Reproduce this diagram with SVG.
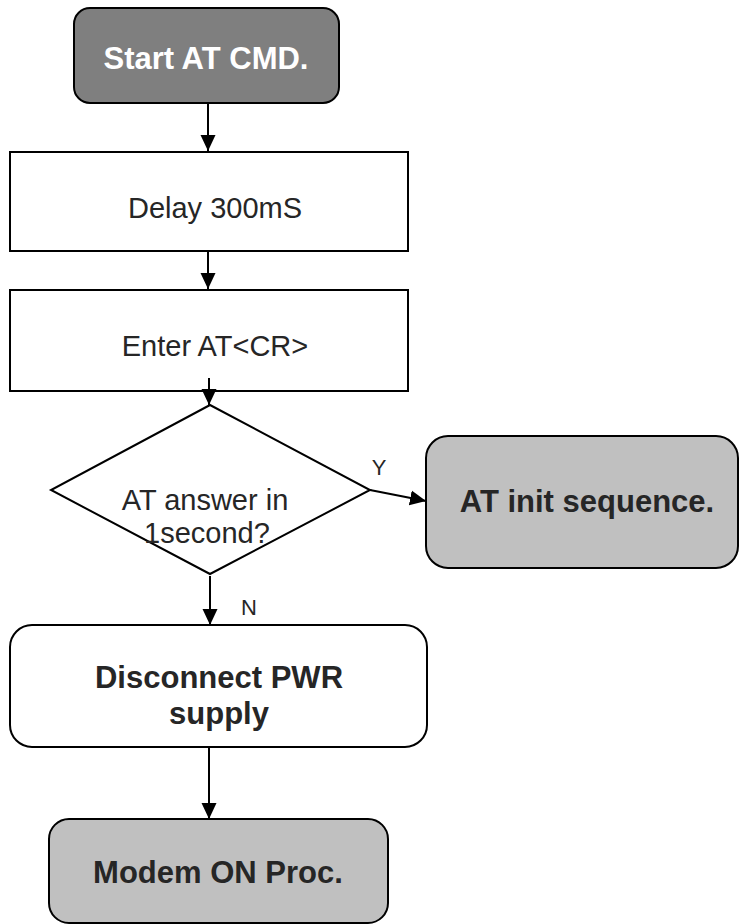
<svg xmlns="http://www.w3.org/2000/svg" width="739" height="924" viewBox="0 0 739 924">
<defs>
<marker id="ah" markerWidth="16" markerHeight="16" refX="16" refY="8" orient="auto" markerUnits="userSpaceOnUse">
<path d="M0,0.5 L16,8 L0,15.5 Z" fill="#000"/>
</marker>
<style>
.box{stroke:#000;stroke-width:2}
.t{font-family:"Liberation Sans",Arial,sans-serif;fill:#262626;text-anchor:middle}
.r{font-size:29px}
.b{font-size:31px;font-weight:bold}
.lbl{font-size:22px}
.c{stroke:#000;stroke-width:2;fill:none;marker-end:url(#ah)}
</style>
</defs>
<rect width="739" height="924" fill="#fff"/>
<g id="start">
<rect class="box" x="74" y="8" width="265" height="95" rx="16" fill="#7f7f7f"/>
<text class="t b" x="206" y="69" style="fill:#fff">Start AT CMD.</text>
</g>
<g id="delay">
<rect class="box" x="10" y="152" width="398" height="99" fill="#fff"/>
<text class="t r" x="215" y="218">Delay 300mS</text>
</g>
<g id="enter">
<rect class="box" x="10" y="290" width="398" height="101" fill="#fff"/>
<text class="t r" x="215" y="356">Enter AT&lt;CR&gt;</text>
</g>
<g id="decision">
<polygon class="box" points="210,405 370,490 210,574 51,490" fill="#fff"/>
<text class="t r" x="205" y="510">AT answer in</text>
<text class="t r" x="207" y="543">1second?</text>
</g>
<g id="atinit">
<rect class="box" x="426" y="436" width="312" height="132" rx="22" fill="#c0c0c0"/>
<text class="t b" x="587" y="512">AT init sequence.</text>
</g>
<g id="disconnect">
<rect class="box" x="10" y="625" width="417" height="122" rx="22" fill="#fff"/>
<text class="t b" x="219" y="688">Disconnect PWR</text>
<text class="t b" x="219" y="724">supply</text>
</g>
<g id="modem">
<rect class="box" x="49" y="819" width="339" height="104" rx="20" fill="#c0c0c0"/>
<text class="t b" x="218" y="883">Modem ON Proc.</text>
</g>
<g id="connectors">
<line class="c" x1="208" y1="103" x2="208" y2="151"/>
<line class="c" x1="208" y1="251" x2="208" y2="289"/>
<line class="c" x1="209" y1="378" x2="209" y2="405"/>
<line class="c" x1="370" y1="490" x2="426" y2="501"/>
<line class="c" x1="210" y1="576" x2="210" y2="625"/>
<line class="c" x1="209" y1="747" x2="209" y2="819"/>
<text class="t lbl" x="379" y="475">Y</text>
<text class="t lbl" x="249" y="615">N</text>
</g>
</svg>
